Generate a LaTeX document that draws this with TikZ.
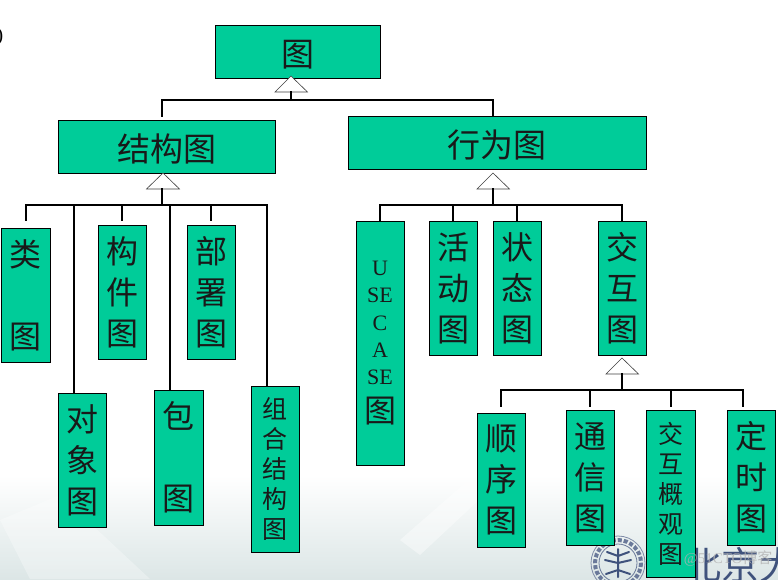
\documentclass[tikz,border=0pt]{standalone}
\usepackage{fontspec}
\setmainfont{Liberation Serif}
\newfontfamily\cjk{Noto Sans CJK SC}
\usetikzlibrary{calc,shapes.geometric}
\definecolor{boxgreen}{HTML}{00CC99}
\definecolor{bgfade}{HTML}{DCE6E6}
\definecolor{seal}{HTML}{2A3F6E}
\tikzset{
  gbox/.style={draw=black,line width=0.9pt,fill=boxgreen,inner sep=0pt,align=center,text=black!90},
  wide/.style={gbox,font=\cjk\fontsize{33}{41}\selectfont,execute at begin node={\rule{0pt}{33pt}}},
  tall/.style={gbox,font=\cjk\fontsize{32}{41}\selectfont,execute at begin node={\rule{0pt}{32pt}}},
  slim/.style={gbox,font=\cjk\fontsize{25}{30}\selectfont},
  tri/.style={draw=black!75,line width=0.6pt,fill=white},
  link/.style={draw=black,line width=2pt},
}
% #1 name, #2 left, #3 top, #4 right, #5 bottom, #6 style, #7 text
\newcommand{\gnode}[7]{\node[#6,minimum width=#4pt-#2pt,minimum height=#5pt-#3pt] (#1) at ({(#2+#4)/2},{(#3+#5)/2}) {#7};}
\begin{document}
\begin{tikzpicture}[x=1pt,y=-1pt]
\useasboundingbox (0,0) rectangle (778,579);
\fill[white] (0,0) rectangle (778,579);
\shade[top color=white,bottom color=bgfade] (0,475) rectangle (778,579);
% faint keyboard and light streak in the background
\begin{scope}
\clip (0,0) rectangle (778,579);
\fill[white,opacity=.3] (30,579) -- (0,520) -- (60,495) -- (150,579) -- cycle;
\fill[white,opacity=.4] (400,540) -- (480,470) -- (495,485) -- (420,555) -- cycle;
\draw[seal!60,line width=0.8pt] (618,563) circle (27);
\draw[seal!70,line width=4pt,dotted] (618,563) circle (23);
\draw[seal!70,line width=0.8pt] (618,563) circle (19);
\draw[seal!90,line width=2pt,line cap=round] (618,549) -- (618,577)
  (618,556) -- (607,552) (618,556) -- (629,552)
  (618,563) -- (605,560) (618,563) -- (631,560)
  (618,570) -- (606,574) (618,570) -- (630,574);
\node[text=seal!90,font=\cjk\fontsize{38}{38}\selectfont,anchor=west] (logo) at (680,565) {北京大};
\node[font=\fontsize{20}{20}\selectfont] (stub) at (0,37) {)};
\end{scope}
\gnode{root}{215}{25}{380}{78}{wide}{图}
\gnode{jg}{58}{120}{275}{173}{wide}{结构图}
\gnode{xw}{348}{116}{646}{169}{wide}{行为图}
\gnode{lei}{1}{228}{50}{362}{tall}{类\\ \\图}
\gnode{gj}{98}{225}{146}{359}{tall}{构\\件\\图}
\gnode{bs}{187}{225}{235}{359}{tall}{部\\署\\图}
\gnode{dx}{58}{393}{106}{527}{tall}{对\\象\\图}
\gnode{bao}{154}{390}{203}{525}{tall}{包\\ \\图}
\gnode{zh}{251}{386}{299}{552}{slim}{组\\合\\结\\构\\图}
\gnode{uc}{356}{221}{404}{465}{gbox,font=\fontsize{22}{27.3}\selectfont}{U\\SE\\C\\A\\SE\\[10pt]{\cjk\fontsize{32}{32}\selectfont 图}}
\gnode{hd}{429}{221}{477}{355}{tall}{活\\动\\图}
\gnode{zt}{493}{221}{541}{355}{tall}{状\\态\\图}
\gnode{jh}{598}{221}{646}{355}{tall}{交\\互\\图}
\gnode{sx}{477}{413}{525}{547}{tall}{顺\\序\\图}
\gnode{tx}{566}{410}{614}{545}{tall}{通\\信\\图}
\gnode{gl}{646}{410}{695}{577}{slim}{交\\互\\概\\观\\图}
\gnode{ds}{727}{410}{775}{545}{tall}{定\\时\\图}
\node[text=white!70!black,opacity=.8,font=\fontsize{15}{15}\selectfont,anchor=east] (mark) at (776,559) {@51CTO\cjk 博客};
\coordinate (ja) at (291,100);
\coordinate (jb) at (162,205);
\coordinate (jc) at (493,205);
\coordinate (jd) at (622,390);
\coordinate (ta) at (291,91);
\coordinate (tb) at (162,188);
\coordinate (tc) at (493,188);
\coordinate (td) at (622,373);
\draw[tri] (291,76) -- (307.5,92) -- (275,92) -- cycle;
\draw[tri] (163,173) -- (179.5,189) -- (146.5,189) -- cycle;
\draw[tri] (493,173) -- (509.5,189) -- (477,189) -- cycle;
\draw[tri] (622,358) -- (638.5,374) -- (606,374) -- cycle;
\draw[link] (ta) -- (ja);
\draw[link] (tb) -- (jb);
\draw[link] (tc) -- (jc);
\draw[link] (td) -- (jd);
\draw[link,shorten >=3pt] (ja) -| ([xshift=-4.5pt]jg.north);
\draw[link] (ja) -| ([xshift=-4pt]xw.north);
\draw[link,shorten >=7pt] (jb) -| (lei.north);
\draw[link] (jb) -| ([xshift=-8pt]dx.north);
\draw[link,shorten >=4pt] (jb) -| (gj.north);
\draw[link] (jb) -| ([xshift=-8.5pt]bao.north);
\draw[link,shorten >=4pt] (jb) -| (bs.north);
\draw[link] (jb) -| ([xshift=-8pt]zh.north);
\draw[link] (jc) -| (uc.north);
\draw[link] (jc) -| (hd.north);
\draw[link] (jc) -| (zt.north);
\draw[link] (jc) -| (jh.north);
\draw[link,shorten >=6pt] (jd) -| (sx.north);
\draw[link,shorten >=3pt] (jd) -| (tx.north);
\draw[link,shorten >=3pt] (jd) -| (gl.north);
\draw[link,shorten >=3pt] (jd) -| ([xshift=-8pt]ds.north);
\end{tikzpicture}
\end{document}
